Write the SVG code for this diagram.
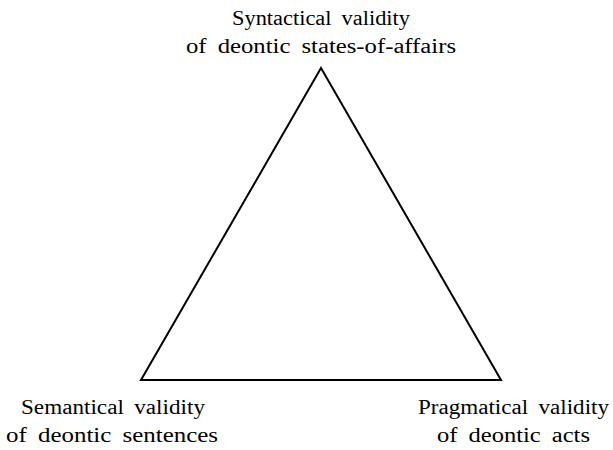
<svg xmlns="http://www.w3.org/2000/svg" width="613" height="450" viewBox="0 0 613 450">
<style>
text{font-family:'Liberation Serif','Times New Roman',serif;font-size:20px;fill:#000;text-anchor:middle;word-spacing:4px}
.edge{fill:none;stroke:#000;stroke-width:2;stroke-linejoin:miter}
</style>
<rect width="613" height="450" fill="#fff"/>
<g id="connectors">
<path class="edge" d="M321,68 L141,380 L501,380 Z"/>
</g>
<g id="top">
<text x="321" y="25" textLength="178" lengthAdjust="spacingAndGlyphs">Syntactical validity</text>
<text x="321" y="53" textLength="270" lengthAdjust="spacingAndGlyphs">of deontic states-of-affairs</text>
</g>
<g id="left">
<text x="113" y="414" textLength="184" lengthAdjust="spacingAndGlyphs">Semantical validity</text>
<text x="112" y="442" textLength="212" lengthAdjust="spacingAndGlyphs">of deontic sentences</text>
</g>
<g id="right">
<text x="513.5" y="414" textLength="191" lengthAdjust="spacingAndGlyphs">Pragmatical validity</text>
<text x="513.5" y="442" textLength="153" lengthAdjust="spacingAndGlyphs">of deontic acts</text>
</g>
</svg>
